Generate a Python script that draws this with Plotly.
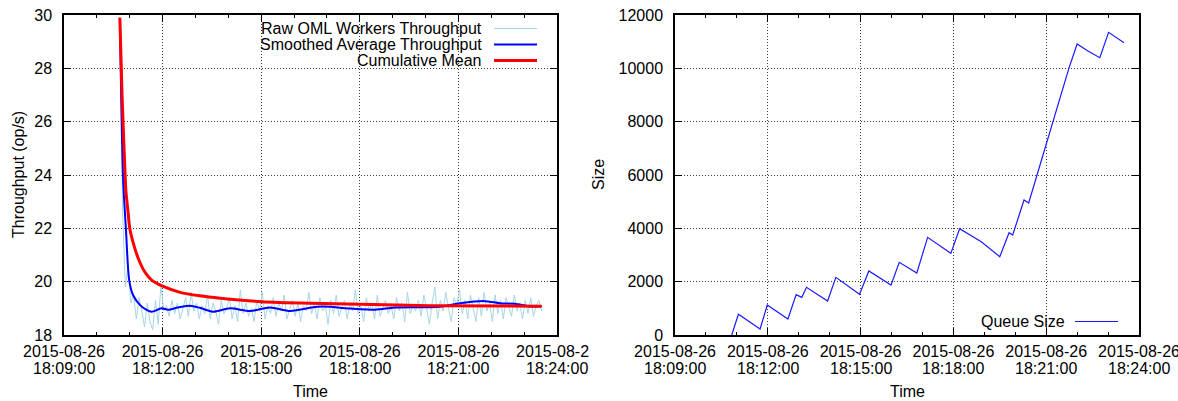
import plotly.graph_objects as go
import pandas as pd

# ---------------- DATA ----------------
BASE_TIME = "2015-08-26 18:09:00"

# raw throughput samples (op/s), one every RAW_STEP_S seconds starting RAW_START_S after BASE_TIME
RAW_START_S = 102
RAW_STEP_S = 5
raw_throughput = [
    29.9, 22.6, 19.8, 20.6, 19.2, 19.5, 18.6, 19.4, 18.9, 18.3,
    19.2, 18.5, 18.2, 19.3, 18.4, 19.9, 18.9, 19.1, 18.7, 19.3,
    18.8, 19.2, 18.6, 19.0, 19.4, 18.7, 19.6, 18.9, 19.2, 18.6,
    19.1, 18.8, 19.5, 18.6, 19.2, 18.9, 18.4, 19.3, 18.8, 19.0,
    19.4, 18.6, 19.1, 18.5, 19.7, 18.8, 19.2, 18.7, 19.0, 18.5,
    19.3, 18.9, 19.6, 18.6, 19.1, 18.8, 19.4, 18.7, 19.2, 18.9,
    19.5, 18.6, 19.0, 19.3, 18.7, 19.2, 18.5, 19.1, 18.9, 19.6,
    18.8, 19.2, 18.6, 19.4, 18.9, 19.1, 18.4, 19.3, 18.8, 19.5,
    18.7, 19.0, 19.3, 18.6, 19.2, 18.9, 19.7, 18.8, 19.1, 18.5,
    19.4, 18.9, 19.2, 18.6, 19.5, 18.7, 19.0, 19.3, 18.8, 19.1,
    18.6, 19.4, 18.9, 19.2, 18.5, 19.6, 18.8, 19.1, 18.9, 19.3,
    18.7, 19.5, 19.0, 18.4, 19.2, 19.8, 18.6, 19.3, 18.9, 19.6,
    19.0, 18.5, 19.4, 19.1, 19.7, 18.8, 19.3, 18.6, 19.5, 19.0,
    18.5, 19.4, 18.7, 19.6, 18.9, 19.2, 18.5, 19.5, 18.8, 19.3,
    18.6, 19.4, 19.0, 18.7, 19.5, 18.9, 19.2, 18.6, 19.3, 18.8,
    19.4, 18.7, 19.1, 19.3, 18.9,
]

# smoothed average throughput (seconds after BASE_TIME, op/s)
smooth_t = [102, 108, 113, 119, 126, 139, 150, 160, 178, 190, 208, 230, 248, 272,
            303, 340, 376, 413, 462, 486, 513, 568, 604, 686, 723, 768, 796, 823,
            851, 872]
smooth_v = [29.9, 23.8, 22.0, 20.06, 19.5, 19.12, 18.95, 18.87, 19.0, 18.95, 19.03,
            19.1, 19.02, 18.87, 19.0, 18.9, 19.03, 18.9, 19.06, 19.06, 19.0, 18.95,
            19.03, 19.06, 19.19, 19.27, 19.19, 19.17, 19.07, 19.08]

# cumulative mean (seconds after BASE_TIME, op/s)
cum_t = [102, 106, 110, 113, 117, 120, 130, 139, 148, 160, 179, 212, 248, 285,
         361, 449, 540, 668, 872]
cum_v = [29.9, 27.0, 24.8, 23.4, 22.6, 22.0, 21.2, 20.7, 20.35, 20.06, 19.84,
         19.6, 19.47, 19.38, 19.25, 19.19, 19.15, 19.1, 19.08]

# queue size (seconds after BASE_TIME, items)
queue_t = [110, 123, 165, 179, 219, 235, 246, 255, 296, 312, 358, 376, 419, 435,
           469, 490, 535, 552, 594, 630, 648, 655, 677, 686, 764, 780, 800, 824,
           841, 871]
queue_v = [0, 776, 225, 1125, 600, 1512, 1412, 1787, 1275, 2162, 1525, 2400, 1875,
           2725, 2325, 3662, 3062, 3987, 3500, 2937, 3837, 3750, 5062, 4950, 10000,
           10912, 10662, 10400, 11350, 10962]

x_tick_s = [0, 180, 360, 540, 720, 900]
x_tick_date = ["2015-08-26"] * 6
x_tick_time = ["18:09:00", "18:12:00", "18:15:00", "18:18:00", "18:21:00", "18:24:00"]
y1_ticks = [18, 20, 22, 24, 26, 28, 30]
y1_labels = ["18", "20", "22", "24", "26", "28", "30"]
y2_ticks = [0, 2000, 4000, 6000, 8000, 10000, 12000]
y2_labels = ["0", "2000", "4000", "6000", "8000", "10000", "12000"]

legend1_names = ["Raw OML Workers Throughput", "Smoothed Average Throughput", "Cumulative Mean"]
legend2_names = ["Queue Size"]

# ---------------- HELPERS ----------------
W, H = 1178, 401
FONT = "Liberation Sans, Arial, Helvetica, sans-serif"
FS = 16
base = pd.Timestamp(BASE_TIME)


def ts(sec_list):
    return [(base + pd.Timedelta(seconds=float(s))).strftime("%Y-%m-%d %H:%M:%S") for s in sec_list]


def px(x):
    return x / W


def py(y):
    return 1 - y / H


raw_t = [RAW_START_S + RAW_STEP_S * i for i in range(len(raw_throughput))]

RAW_COLOR = "#a6d6e6"
SMOOTH_COLOR = "#0000ff"
CUM_COLOR = "#ff0000"
QUEUE_COLOR = "#1a1aff"
GRID = "#3a3a3a"
GRID_DASH = "1px,2px"

fig = go.Figure()
fig.add_trace(go.Scatter(x=ts(raw_t), y=raw_throughput, mode="lines", name=legend1_names[0],
                         line=dict(color=RAW_COLOR, width=1), xaxis="x", yaxis="y"))
fig.add_trace(go.Scatter(x=ts(smooth_t), y=smooth_v, mode="lines", name=legend1_names[1],
                         line=dict(color=SMOOTH_COLOR, width=2, shape="spline", smoothing=0.8),
                         xaxis="x", yaxis="y"))
fig.add_trace(go.Scatter(x=ts(cum_t), y=cum_v, mode="lines", name=legend1_names[2],
                         line=dict(color=CUM_COLOR, width=3, shape="spline", smoothing=0.6),
                         xaxis="x", yaxis="y"))
fig.add_trace(go.Scatter(x=ts(queue_t), y=queue_v, mode="lines", name=legend2_names[0],
                         line=dict(color=QUEUE_COLOR, width=1.2), xaxis="x2", yaxis="y2"))

x_range = ts([x_tick_s[0], x_tick_s[-1]])
tick_pos = ts(x_tick_s)

common_x = dict(
    type="date", range=x_range, tickmode="array", tickvals=tick_pos, ticktext=x_tick_date,
    ticks="inside", ticklen=7, tickwidth=1, tickcolor="black",
    minor=dict(dtick=60000, ticks="inside", ticklen=3.5, tickcolor="black", showgrid=False),
    showgrid=True, gridcolor=GRID, griddash=GRID_DASH, gridwidth=1,
    showline=True, linecolor="black", linewidth=1.5, mirror="allticks",
    zeroline=False, tickfont=dict(family=FONT, size=FS, color="black"),
    ticklabeloverflow="allow", ticklabelstandoff=1, automargin=False,
)
common_y = dict(
    ticks="inside", ticklen=7, tickwidth=1, tickcolor="black",
    showgrid=True, gridcolor=GRID, griddash=GRID_DASH, gridwidth=1,
    showline=True, linecolor="black", linewidth=1.5, mirror="allticks",
    zeroline=False, tickfont=dict(family=FONT, size=FS, color="black"),
    tickmode="array", ticklabelstandoff=7, automargin=False,
)

L1, R1 = 64, 557
L2, R2 = 675, 1139
TOP, BOT = 15, 335

fig.update_layout(
    width=W, height=H, autosize=False,
    margin=dict(l=0, r=0, t=0, b=0, pad=0, autoexpand=False),
    paper_bgcolor="white", plot_bgcolor="white",
    showlegend=False,
    font=dict(family=FONT, size=FS, color="black"),
    xaxis=dict(domain=[px(L1), px(R1)], anchor="y", **common_x),
    xaxis2=dict(domain=[px(L2), px(R2)], anchor="y2", **common_x),
    yaxis=dict(domain=[py(BOT), py(TOP)], anchor="x", range=[18, 30], tickvals=y1_ticks,
               ticktext=y1_labels, **common_y),
    yaxis2=dict(domain=[py(BOT), py(TOP)], anchor="x2", range=[0, 12000], tickvals=y2_ticks,
                ticktext=y2_labels, **common_y),
)

shapes = []
annotations = []

# legend background boxes (hide grid lines, below traces)
shapes.append(dict(type="rect", xref="paper", yref="paper", x0=px(222), x1=px(R1 - 1),
                   y0=py(70), y1=py(TOP + 1), fillcolor="white", line=dict(width=0), layer="between"))
shapes.append(dict(type="rect", xref="paper", yref="paper", x0=px(975), x1=px(R2 - 1),
                   y0=py(BOT - 1), y1=py(309), fillcolor="white", line=dict(width=0), layer="between"))

# left legend entries
leg1_colors = [RAW_COLOR, SMOOTH_COLOR, CUM_COLOR]
leg1_widths = [1, 2, 3]
leg1_y = [28.5, 44.5, 60.5]
for name, col, w, yy in zip(legend1_names, leg1_colors, leg1_widths, leg1_y):
    annotations.append(dict(xref="paper", yref="paper", x=px(484), y=py(yy), text=name,
                            showarrow=False, xanchor="right", yanchor="middle",
                            font=dict(family=FONT, size=FS, color="black")))
    shapes.append(dict(type="line", xref="paper", yref="paper", x0=px(494), x1=px(537),
                       y0=py(yy), y1=py(yy), line=dict(color=col, width=w), layer="above"))

# right legend entry
annotations.append(dict(xref="paper", yref="paper", x=px(1067), y=py(321.5), text=legend2_names[0],
                        showarrow=False, xanchor="right", yanchor="middle",
                        font=dict(family=FONT, size=FS, color="black")))
shapes.append(dict(type="line", xref="paper", yref="paper", x0=px(1075), x1=px(1118),
                   y0=py(321.5), y1=py(321.5), line=dict(color=QUEUE_COLOR, width=1.2), layer="above"))

# second line of the time tick labels
for xa in ["x", "x2"]:
    for p, t in zip(tick_pos, x_tick_time):
        annotations.append(dict(xref=xa, yref="paper", x=p, y=py(368), text=t, showarrow=False,
                                xanchor="center", yanchor="middle",
                                font=dict(family=FONT, size=FS, color="black")))

# axis titles
annotations.append(dict(xref="paper", yref="paper", x=px(18), y=py((TOP + BOT) / 2),
                        text="Throughput (op/s)", textangle=-90, showarrow=False,
                        xanchor="center", yanchor="middle", font=dict(family=FONT, size=FS)))
annotations.append(dict(xref="paper", yref="paper", x=px(598), y=py((TOP + BOT) / 2),
                        text="Size", textangle=-90, showarrow=False,
                        xanchor="center", yanchor="middle", font=dict(family=FONT, size=FS)))
annotations.append(dict(xref="paper", yref="paper", x=px((L1 + R1) / 2), y=py(391),
                        text="Time", showarrow=False, xanchor="center", yanchor="middle",
                        font=dict(family=FONT, size=FS)))
annotations.append(dict(xref="paper", yref="paper", x=px((L2 + R2) / 2), y=py(391),
                        text="Time", showarrow=False, xanchor="center", yanchor="middle",
                        font=dict(family=FONT, size=FS)))

# clip of the left panel's last tick label at the panel border
shapes.append(dict(type="rect", xref="paper", yref="paper", x0=px(589), x1=px(606),
                   y0=py(362), y1=py(338), fillcolor="white", line=dict(width=0), layer="above"))

fig.update_layout(shapes=shapes, annotations=annotations)
fig.write_html("out.html")
